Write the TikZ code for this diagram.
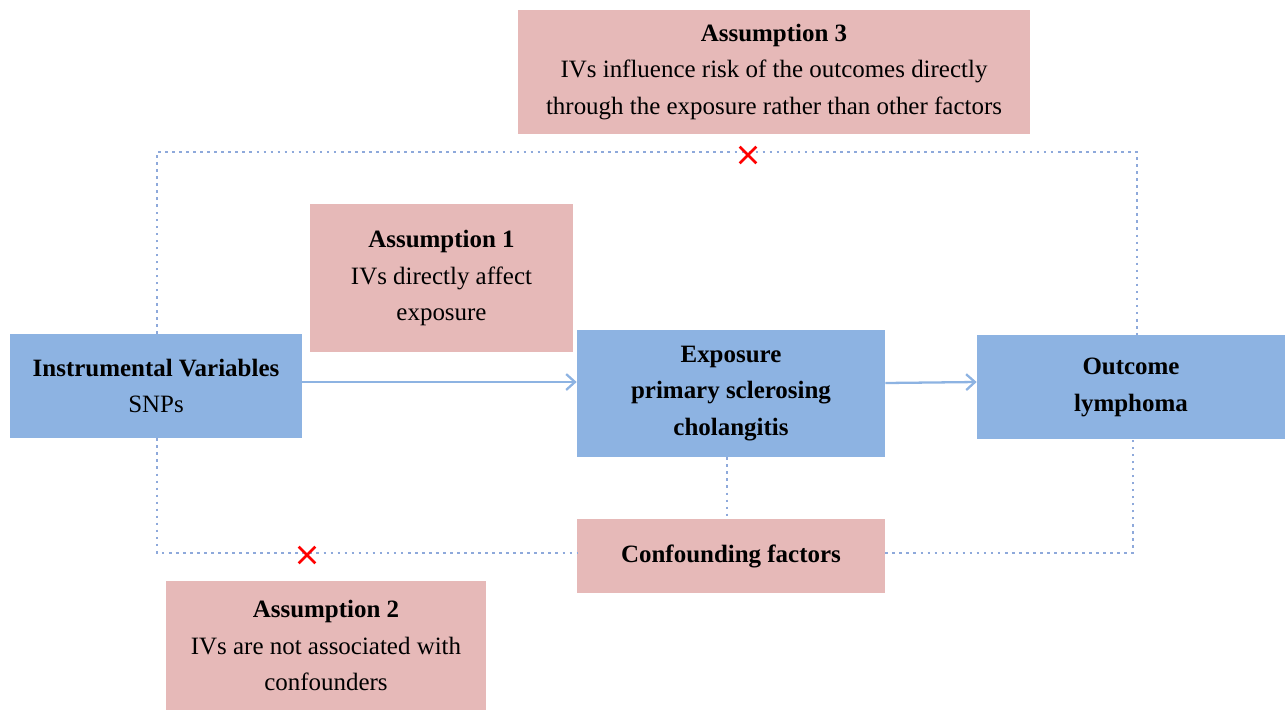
\documentclass[tikz,border=0pt]{standalone}
\usepackage{fontspec}
\setmainfont{Liberation Serif}
\usetikzlibrary{arrows.meta}
\usetikzlibrary{shapes.misc}
\definecolor{boxblue}{HTML}{8DB3E2}
\definecolor{boxpink}{HTML}{E6B9B8}
\definecolor{dotblue}{HTML}{8EA9DB}
\tikzstyle{VarNode}=[rectangle, fill=boxblue, inner sep=0pt, align=center, font=\fontsize{14.2}{21}\selectfont]
\tikzstyle{AssumNode}=[rectangle, fill=boxpink, inner sep=0pt, align=center, font=\fontsize{14.2}{21}\selectfont]
\tikzstyle{CauseEdge}=[-{Straight Barb[length=5pt,width=9pt]}, line width=1.3pt, boxblue]
\tikzstyle{DotEdge}=[line width=1.5pt, dotblue, dash pattern=on 1.5pt off 2.5pt]
\tikzstyle{Blocked}=[cross out, draw=red, line width=1.5pt, minimum size=8pt, inner sep=0pt]

\begin{document}
\begin{tikzpicture}
\useasboundingbox (0,0) rectangle (25.7,-14.2);
\node[VarNode, minimum width=5.84cm, minimum height=2.08cm](IV) at (3.12,-7.72) {\textbf{Instrumental Variables}\\SNPs};
\node[VarNode, minimum width=6.16cm, minimum height=2.54cm](EXP) at (14.62,-7.87) {\textbf{Exposure}\\\textbf{primary sclerosing}\\\textbf{cholangitis}};
\node[VarNode, minimum width=6.16cm, minimum height=2.08cm](OUT) at (22.62,-7.74) {\textbf{Outcome}\\\textbf{lymphoma}};
\node[AssumNode, minimum width=6.16cm, minimum height=1.48cm](CONF) at (14.62,-11.12) {\textbf{Confounding factors}};
\node[AssumNode, minimum width=10.24cm, minimum height=2.48cm](A3) at (15.48,-1.44) {\textbf{Assumption 3}\\IVs influence risk of the outcomes directly\\through the exposure rather than other factors};
\node[AssumNode, minimum width=5.26cm, minimum height=2.96cm](A1) at (8.83,-5.56) {\textbf{Assumption 1}\\IVs directly affect\\exposure};
\node[AssumNode, minimum width=6.4cm, minimum height=2.58cm](A2) at (6.52,-12.91) {\textbf{Assumption 2}\\IVs are not associated with\\confounders};

\coordinate (TL) at (3.14,-3.04);
\coordinate (TR) at (22.74,-3.04);
\coordinate (BL) at (3.14,-11.06);
\coordinate (BR) at (22.66,-11.06);

\draw[CauseEdge](IV.east |- 0,-7.64) -- (EXP.west |- 0,-7.64);
\draw[CauseEdge](EXP.east |- 0,-7.66) -- (OUT.west |- 0,-7.64);
\draw[DotEdge](IV.north -| TL) -- (TL) -- (TR) -- (OUT.north -| TR);
\draw[DotEdge](IV.south -| BL) -- (BL) -- (CONF.west |- BL);
\draw[DotEdge](CONF.east |- BR) -- (BR) -- (OUT.south -| BR);
\draw[DotEdge](EXP.south -| 14.54,0) -- (CONF.north -| 14.54,0);

\node[Blocked](X3) at (14.96,-3.10) {};
\node[Blocked](X2) at (6.14,-11.10) {};
\end{tikzpicture}
\end{document}
